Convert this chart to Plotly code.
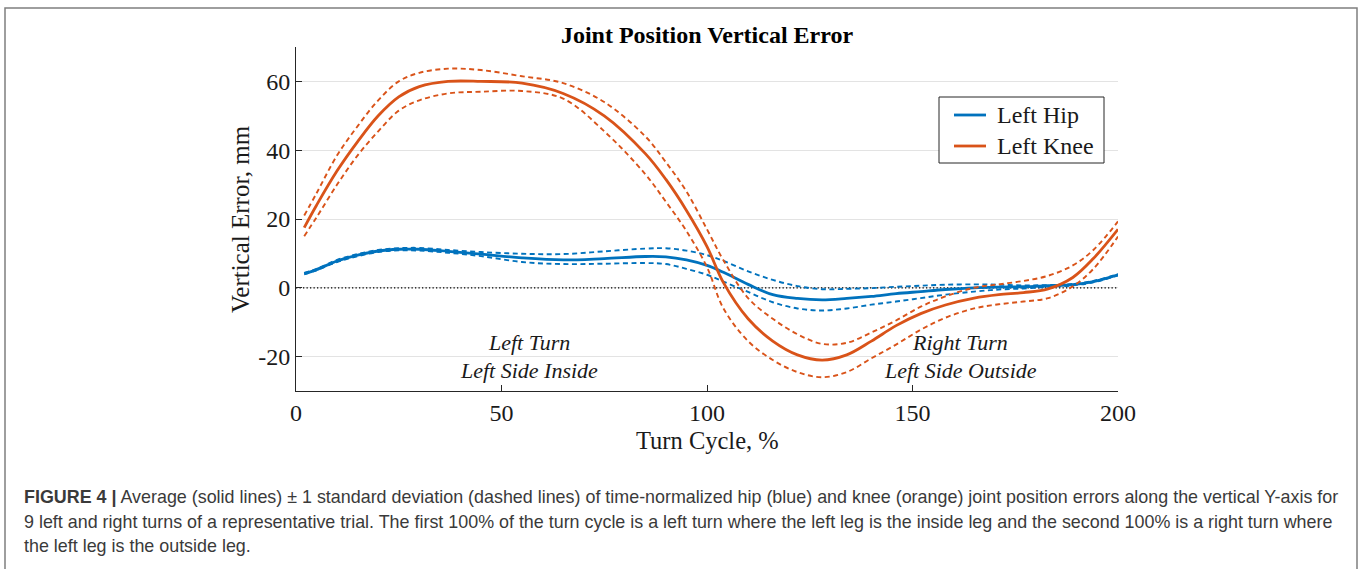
"""Joint position vertical error over the turn cycle (hip vs knee)."""

import plotly.graph_objects as go

# turn cycle samples, %
turn_cycle = [2, 5, 10, 15, 20, 25, 30, 37, 45, 55, 65, 75, 85, 90, 95, 100, 104,
              110, 116, 122, 128, 134, 140, 146, 152, 158, 165, 171, 177, 183, 189, 194, 200]

# vertical error, mm (mean and +/- 1 SD)
hip_mean = [4.1, 5.3, 7.8, 9.5, 10.7, 11.2, 11.2, 10.6, 9.8, 8.7, 8.1, 8.5, 9.1, 9.0, 8.1, 6.5, 4.5,
            1.0, -2.0, -3.1, -3.5, -3.1, -2.5, -1.7, -1.1, -0.5, 0.0, 0.2, 0.3, 0.6, 0.9, 1.8, 3.8]
hip_upper = [4.3, 5.5, 8.1, 9.8, 11.0, 11.5, 11.6, 11.0, 10.4, 9.9, 9.8, 10.6, 11.4, 11.5, 10.8, 9.5, 7.8,
             4.8, 2.3, 0.5, -0.4, -0.3, -0.1, 0.3, 0.6, 0.9, 1.0, 0.9, 0.7, 0.8, 1.1, 2.0, 4.0]
hip_lower = [3.9, 5.1, 7.5, 9.2, 10.4, 10.9, 10.8, 10.2, 9.2, 7.5, 6.9, 7.0, 7.2, 6.9, 5.5, 3.8, 1.8,
             -1.2, -4.2, -6.0, -6.6, -6.0, -4.9, -4.0, -3.0, -2.0, -1.1, -0.5, -0.2, 0.3, 0.7, 1.6, 3.6]

knee_mean = [17.5, 24, 34, 42.5, 50, 55.5, 58.5, 60, 60, 59.5, 56.5, 50, 39, 31.5, 22.5, 12, 1.5,
             -9, -15.5, -19.5, -21, -19.5, -15.5, -11, -7.5, -5, -3, -2, -1.4, -0.3, 3, 8.5, 17]
knee_upper = [21, 27.5, 38.5, 47, 54.5, 60, 62.5, 63.7, 63.3, 61.5, 59.5, 54, 44, 36.5, 28, 17, 8,
              -3, -9, -13.5, -16.3, -16, -13, -9.5, -5.5, -2.5, 0, 1, 2, 3.5, 6.5, 11, 19.3]
knee_lower = [15, 20.5, 30, 38.5, 45.5, 51.5, 54.5, 56.5, 57, 57.2, 55, 45.5, 33, 25, 16.5, 6, -6,
              -15.5, -21, -24.5, -26, -24.5, -20.5, -16.5, -12.2, -8.7, -6, -4.8, -4, -3, 0.4, 5.5, 14.9]

y_ticks = [-20, 0, 20, 40, 60]
y_tick_text = ["-20", "0", "20", "40", "60"]
x_ticks = [0, 50, 100, 150, 200]

HIP_COLOR = "#0072BD"
KNEE_COLOR = "#D95319"
SERIF = "Liberation Serif"
SANS = "Liberation Sans"
INK = "#1a1a1a"

CAPTION = [
    "<b>FIGURE 4 |</b> Average (solid lines) \u00b1 1 standard deviation (dashed lines) of time-normalized hip (blue) "
    "and knee (orange) joint position errors along the vertical Y-axis for",
    "9 left and right turns of a representative trial. The first 100% of the turn cycle is a left turn where the left "
    "leg is the inside leg and the second 100% is a right turn where",
    "the left leg is the outside leg.",
]

# plot area in page pixels: x 296..1118, y 47..391
def px(x):
    return (x - 296) / 822


def py(y):
    return (391 - y) / 344


fig = go.Figure()

series = [
    ("Left Hip", HIP_COLOR, hip_mean, hip_upper, hip_lower),
    ("Left Knee", KNEE_COLOR, knee_mean, knee_upper, knee_lower),
]
for name, color, mean, upper, lower in series:
    for band in (upper, lower):
        fig.add_trace(go.Scatter(
            x=turn_cycle, y=band, mode="lines", showlegend=False, hoverinfo="skip",
            line=dict(color=color, width=1.9, dash="5px,3.5px", shape="spline", smoothing=1.0),
        ))
    fig.add_trace(go.Scatter(
        x=turn_cycle, y=mean, mode="lines", name=name, showlegend=False,
        line=dict(color=color, width=2.8, shape="spline", smoothing=1.0),
    ))

# zero reference
fig.add_shape(type="line", xref="x", yref="y", x0=0, x1=200, y0=0, y1=0,
              line=dict(color="black", width=1.3, dash="1.3px,2.2px"), layer="between")

# outer figure frame
fig.add_shape(type="rect", xref="paper", yref="paper", x0=px(5), x1=px(1357), y0=py(600), y1=py(8),
              line=dict(color="#7f7f7f", width=1.5))

# legend box drawn by hand to match the MATLAB layout
fig.add_shape(type="rect", xref="paper", yref="paper", x0=px(939), x1=px(1104), y0=py(163), y1=py(97),
              line=dict(color="#262626", width=1), fillcolor="white")
for (name, color, *_), y in zip(series, (115, 146)):
    fig.add_shape(type="line", xref="paper", yref="paper", x0=px(954), x1=px(986), y0=py(y), y1=py(y),
                  line=dict(color=color, width=2.8))
    fig.add_annotation(xref="paper", yref="paper", x=px(995), y=py(y), text=name, showarrow=False,
                       xanchor="left", yanchor="middle", font=dict(family=SERIF, size=24, color=INK))

for text, x, y in [("Left Turn", 56.7, -16), ("Left Side Inside", 56.7, -24),
                   ("Right Turn", 161.6, -16), ("Left Side Outside", 161.6, -24)]:
    fig.add_annotation(x=x, y=y, text=f"<i>{text}</i>", showarrow=False,
                       xanchor="center", yanchor="middle",
                       font=dict(family=SERIF, size=22, color=INK))

fig.add_annotation(xref="paper", yref="paper", x=0.5, y=py(440), text="Turn Cycle, %", showarrow=False,
                   xanchor="center", yanchor="middle", font=dict(family=SERIF, size=24.5, color=INK))
fig.add_annotation(xref="paper", yref="paper", x=px(240), y=0.5, text="Vertical Error, mm", showarrow=False,
                   xanchor="center", yanchor="middle", textangle=-90,
                   font=dict(family=SERIF, size=25, color=INK))

for i, line in enumerate(CAPTION):
    fig.add_annotation(xref="paper", yref="paper", x=px(22), y=py(497 + 24.5 * i),
                       xanchor="left", yanchor="middle", text=line, showarrow=False, align="left",
                       font=dict(family=SANS, size=17.9, color="#3a3a3a"))

fig.update_xaxes(range=[0, 200], tickvals=x_ticks, ticks="inside", ticklen=6,
                 tickcolor="#262626", showline=True, linecolor="#262626", linewidth=1,
                 showgrid=False, zeroline=False,
                 tickfont=dict(family=SERIF, size=24, color=INK))
fig.update_yaxes(range=[-30, 70], tickvals=y_ticks, ticktext=y_tick_text, ticks="inside", ticklen=6,
                 tickcolor="#262626", showline=True, linecolor="#262626", linewidth=1,
                 showgrid=True, gridcolor="#e3e3e3", gridwidth=1, zeroline=False,
                 tickfont=dict(family=SERIF, size=24, color=INK))

fig.update_layout(
    width=1360, height=569,
    margin=dict(l=296, r=242, t=47, b=178),
    paper_bgcolor="white", plot_bgcolor="white",
    title=dict(text="<b>Joint Position Vertical Error</b>", x=0.5, xref="paper",
               y=1 - 35 / 569, yref="container", yanchor="middle",
               font=dict(family=SERIF, size=24, color="black")),
    showlegend=False,
)

fig.write_html("out.html", config={"displayModeBar": False},
               post_script="document.body.style.margin='0';")
